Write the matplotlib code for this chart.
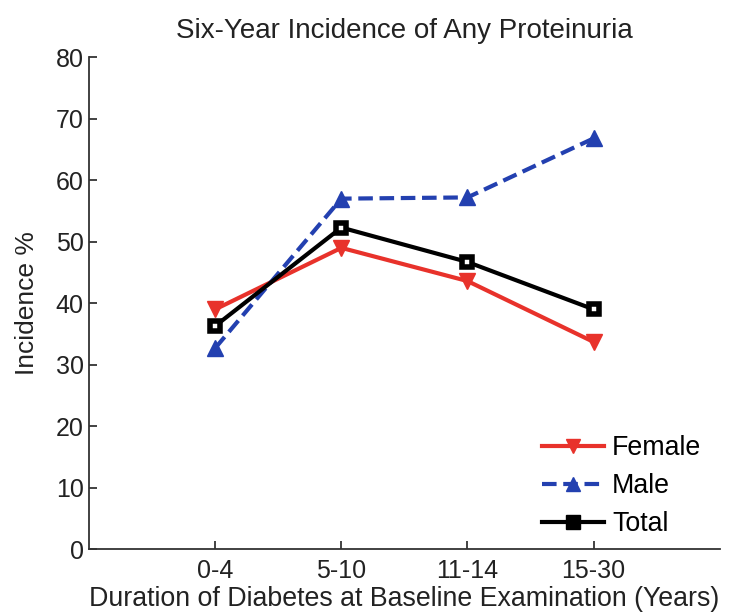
import matplotlib
matplotlib.use("Agg")
import matplotlib.pyplot as plt

plt.rcParams['font.family'] = ['Liberation Sans', 'DejaVu Sans']

# duration groups and six-year incidence (%)
groups = ['0-4', '5-10', '11-14', '15-30']
female = [39.0, 49.0, 43.6, 33.7]
male = [32.7, 57.0, 57.2, 66.8]
total = [36.3, 52.3, 46.7, 39.0]

fig = plt.figure(figsize=(7.3, 6.15), dpi=100)
ax = fig.add_axes([0.122, 0.107, 0.864, 0.8])

x = range(1, len(groups) + 1)
ax.plot(x, female, color='#e8322b', lw=3, marker='v', ms=11, label='Female')
ax.plot(x, male, color='#2340b0', lw=3, ls=(0, (3.5, 1.6)), marker='^', ms=11, label='Male')
ax.plot(x, total, color='black', lw=3, marker='s', ms=7.5, mfc='white', mew=4, label='Total')

ax.set_xlim(0, 5)
ax.set_ylim(0, 80)
ax.set_xticks(list(x))
ax.set_xticklabels(groups)
ax.set_yticks(range(0, 81, 10))
ax.tick_params(direction='in', labelsize=18, length=6, width=1.2, colors='#222222')
ax.tick_params(axis='x', pad=7)
ax.tick_params(axis='y', pad=4)
for s in ['top', 'right']:
    ax.spines[s].set_visible(False)
for s in ['left', 'bottom']:
    ax.spines[s].set_linewidth(1.3)
    ax.spines[s].set_color('#333333')

ax.set_title('Six-Year Incidence of Any Proteinuria', fontsize=20, pad=14, color='#222222')
ax.set_xlabel('Duration of Diabetes at Baseline Examination (Years)', fontsize=19.3,
              labelpad=2, color='#222222')
ax.set_ylabel('Incidence %', fontsize=19, color='#222222', labelpad=12)

leg = ax.legend(loc='lower right', bbox_to_anchor=(0.99, 0.0), frameon=False, fontsize=19.3,
                handlelength=2.3, handletextpad=0.3, labelspacing=0.45, borderaxespad=0.05)
for h in leg.legend_handles:
    h.set_markerfacecolor(h.get_color())
    h.set_markeredgewidth(1)
    h.set_markersize(10)

fig.savefig('out.png', dpi=100)
